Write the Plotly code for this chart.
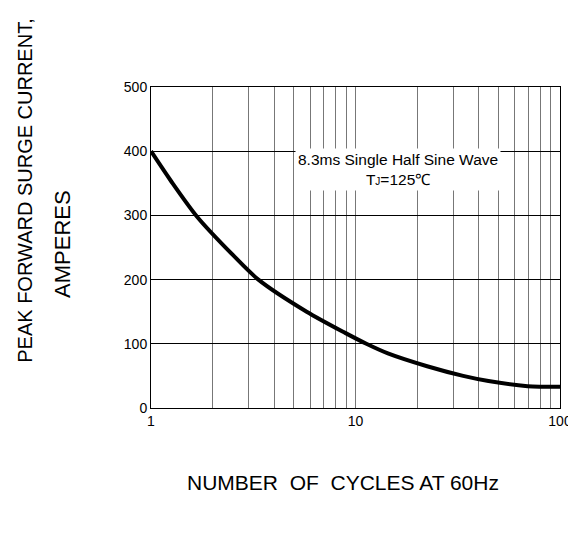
import plotly.graph_objects as go

# Data
cycles = [1, 1.25, 1.68, 2.52, 3.35, 5.77, 8.9, 11.3, 14.4, 22.4, 33.6, 44.7, 69.5, 100]
current = [400, 354, 298, 238, 200, 150, 117, 100, 85, 65, 50, 42, 34, 33]

x_major = [1, 10, 100]
x_major_text = ["1", "10", "100"]
x_minor = [2, 3, 4, 5, 6, 7, 8, 9, 20, 30, 40, 50, 60, 70, 80, 90]
y_ticks = [0, 100, 200, 300, 400, 500]

note_line1 = "8.3ms Single Half Sine Wave"
note_line2 = "T<span style='font-size:10px'>J</span>=125\u2103"
y_title1 = "PEAK FORWARD SURGE CURRENT,"
y_title2 = "AMPERES"
x_title = "NUMBER\u00a0 OF\u00a0 CYCLES AT 60Hz"

body_font = "Liberation Sans, Arial, sans-serif"

fig = go.Figure()
fig.add_trace(go.Scatter(
    x=cycles, y=current, mode="lines",
    line=dict(color="black", width=4, shape="spline", smoothing=0.8),
    hoverinfo="skip", showlegend=False,
))

fig.update_layout(
    width=576, height=549,
    margin=dict(l=143, r=15, t=79, b=149),
    paper_bgcolor="white", plot_bgcolor="white",
    font=dict(family=body_font, size=14, color="black"),
    xaxis=dict(
        type="log", range=[0, 2],
        tickvals=x_major, ticktext=x_major_text,
        showgrid=True, gridcolor="#777777", gridwidth=1,
        showline=True, linecolor="black", linewidth=1, mirror=True,
        ticks="", zeroline=False,
        tickfont=dict(size=14),
        minor=dict(tickvals=x_minor, showgrid=True, gridcolor="#777777", gridwidth=1, ticks=""),
    ),
    yaxis=dict(
        range=[0, 500], tickvals=y_ticks,
        showgrid=True, gridcolor="black", gridwidth=1,
        showline=True, linecolor="black", linewidth=1, mirror=True,
        ticks="", zeroline=False,
        tickfont=dict(size=14),
    ),
    annotations=[
        dict(x=1.206, y=371, xref="x", yref="y",
             text=note_line1 + "<br>" + note_line2,
             showarrow=False, align="center",
             font=dict(family=body_font, size=15.5, color="black"),
             bgcolor="white", borderpad=2),
        dict(x=(14 - 143) / 418, y=(400 - 183) / 321, xref="paper", yref="paper",
             text=y_title1, textangle=-90, showarrow=False,
             xanchor="center", yanchor="middle",
             font=dict(family=body_font, size=20, color="black")),
        dict(x=(52 - 143) / 418, y=(400 - 236) / 321, xref="paper", yref="paper",
             text=y_title2, textangle=-90, showarrow=False,
             xanchor="center", yanchor="middle",
             font=dict(family=body_font, size=22, color="black")),
        dict(x=(339 - 143) / 418, y=(400 - 474) / 321, xref="paper", yref="paper",
             text=x_title, showarrow=False,
             xanchor="center", yanchor="middle",
             font=dict(family=body_font, size=21, color="black")),
    ],
)

fig.write_html("out.html")
